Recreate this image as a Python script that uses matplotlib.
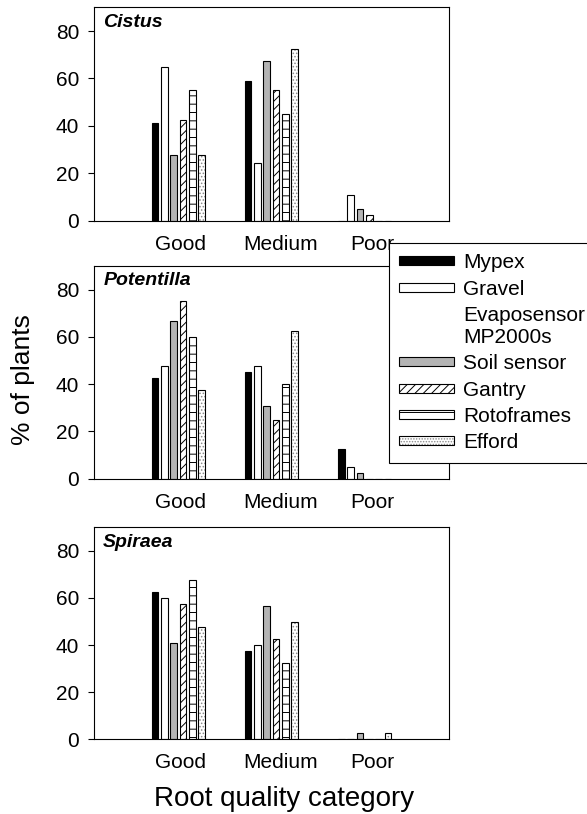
import numpy as np
import matplotlib
matplotlib.use("Agg")
import matplotlib.pyplot as plt
from matplotlib.patches import Rectangle

plt.rcParams['font.family'] = ['Liberation Sans', 'DejaVu Sans']
plt.rcParams['hatch.linewidth'] = 0.7

groups = ["Good", "Medium", "Poor"]
series = ["Mypex", "Gravel", "Evaposensor\nMP2000s", "Soil sensor", "Gantry", "Rotoframes", "Efford"]
species = ["Cistus", "Potentilla", "Spiraea"]

# rows follow series order; Evaposensor MP2000s has no bars
cistus = [[41, 59, 0], [65, 24.5, 11], None, [27.5, 67.5, 5],
          [42.5, 55, 2.5], [55, 45, 0], [27.5, 72.5, 0]]
potentilla = [[42.5, 45, 12.5], [47.5, 47.5, 5], None, [66.7, 30.8, 2.5],
              [75, 25, 0], [60, 40, 0], [37.5, 62.5, 0]]
spiraea = [[62.5, 37.5, 0], [60, 40, 0], None, [41, 56.4, 2.5],
           [57.5, 42.5, 0], [67.5, 32.5, 0], [47.5, 50, 2.5]]

styles = {
    "Mypex": dict(facecolor="black", hatch=None),
    "Gravel": dict(facecolor="white", hatch=None),
    "Soil sensor": dict(facecolor="#b4b4b4", hatch=None),
    "Gantry": dict(facecolor="white", hatch="////"),
    "Rotoframes": dict(facecolor="white", hatch="--"),
    "Efford": dict(facecolor="white", hatch="....."),
}

W, H = 587, 814
fig = plt.figure(figsize=(W / 100, H / 100), dpi=100)

# axes boxes in pixels: top, bottom
boxes = [(7.3, 220.7), (266, 478.7), (527.3, 739.3)]
left_px, right_px = 94.3, 449

x = np.arange(len(groups))
slot = 0.1
width = 0.072

for data, name, (top, bot) in zip([cistus, potentilla, spiraea], species, boxes):
    ax = fig.add_axes([left_px / W, 1 - bot / H, (right_px - left_px) / W, (bot - top) / H])
    bars = [(s, d) for s, d in zip(series, data) if d is not None]
    n = len(bars)
    for i, (s, d) in enumerate(bars):
        pos = x + (i - (n - 1) / 2) * slot
        st = styles[s]
        if s == "Efford":
            ax.bar(pos, d, width, color="white", hatch=st["hatch"], edgecolor="#8a8a8a", linewidth=0)
            ax.bar(pos, d, width, fill=False, edgecolor="black", linewidth=0.8)
        else:
            ax.bar(pos, d, width, color=st["facecolor"], hatch=st["hatch"],
                   edgecolor="black", linewidth=0.8)
    ax.set_xlim(-0.9, 2.905)
    ax.set_ylim(0, 90)
    ax.set_yticks([0, 20, 40, 60, 80])
    ax.set_xticks(x + np.array([0.03, 0.1, 0.08]))
    ax.set_xticklabels(groups)
    ax.tick_params(axis='x', length=0, pad=10, labelsize=15)
    ax.tick_params(axis='y', length=4, width=0.8, pad=7, labelsize=15, direction='out')
    for sp in ax.spines.values():
        sp.set_linewidth(0.8)
    ax.text(0.025, 0.93, name, transform=ax.transAxes, fontsize=14,
            fontweight='bold', fontstyle='italic', va='center', ha='left')

handles = []
for s in series:
    if s == "Evaposensor\nMP2000s":
        handles.append(Rectangle((0, 0), 1, 1, fill=False, edgecolor='none'))
    elif s == "Efford":
        h1 = Rectangle((0, 0), 1, 1, facecolor="white", hatch="......", edgecolor="#8a8a8a", linewidth=0)
        h2 = Rectangle((0, 0), 1, 1, fill=False, edgecolor="black", linewidth=0.8)
        handles.append((h1, h2))
    else:
        st = styles[s]
        handles.append(Rectangle((0, 0), 1, 1, facecolor=st["facecolor"], hatch=st["hatch"],
                                 edgecolor="black", linewidth=0.8))

leg = fig.legend(handles, series, loc='upper left', bbox_to_anchor=(389 / W, 1 - 243 / H),
                 fontsize=15, frameon=True, fancybox=False, handlelength=2.6,
                 handleheight=0.28, handletextpad=0.45, labelspacing=0.35,
                 borderpad=0.5, borderaxespad=0)
leg.get_frame().set_edgecolor("black")
leg.get_frame().set_linewidth(0.8)
leg.get_frame().set_alpha(1)

fig.text(23 / W, 1 - 380 / H, "% of plants", rotation=90, fontsize=19, ha='center', va='center')
fig.text(284 / W, 1 - 799 / H, "Root quality category", fontsize=20, ha='center', va='center')

fig.savefig("out.png", dpi=100)
